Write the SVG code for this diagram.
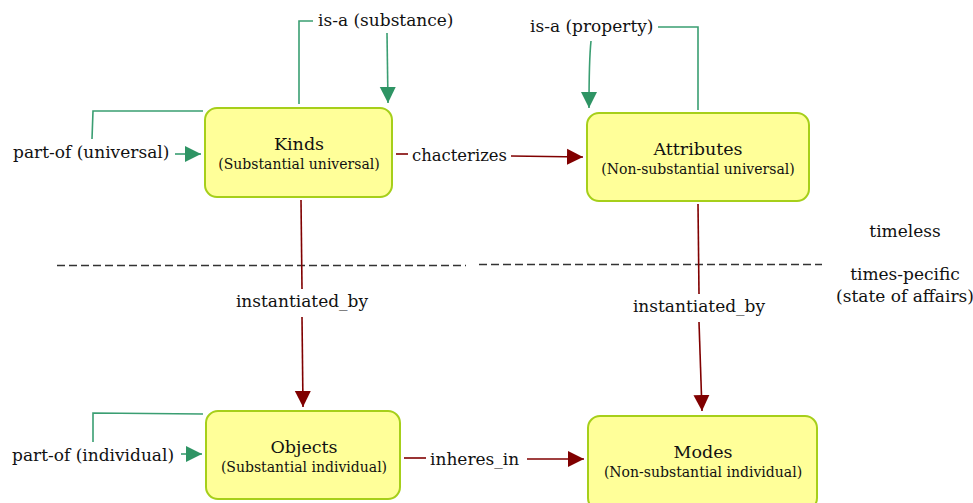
<svg xmlns="http://www.w3.org/2000/svg" width="973" height="503" viewBox="0 0 973 503">
  <style>
    .box { fill: #ffff99; stroke: #a6cf1a; stroke-width: 2; }
    .title { font-family: "DejaVu Serif", serif; font-size: 17.5px; fill: #111; text-anchor: middle; }
    .sub { font-family: "DejaVu Serif", serif; font-size: 14px; fill: #111; text-anchor: middle; }
    .lbl { font-family: "DejaVu Serif", serif; font-size: 17px; fill: #111; }
    .mid { text-anchor: middle; }
    .g { fill: none; stroke: #3a9e72; stroke-width: 1.6; }
    .r { fill: none; stroke: #800000; stroke-width: 1.6; }
    .dash { fill: none; stroke: #333; stroke-width: 1.3; stroke-dasharray: 8 4; }
  </style>
  <defs>
    <marker id="agb" viewBox="0 0 10 10" refX="10" refY="5" markerWidth="16" markerHeight="18" markerUnits="userSpaceOnUse" orient="auto">
      <path d="M0,0 L10,5 L0,10 z" fill="#2e9464"/>
    </marker>
    <marker id="ar" viewBox="0 0 10 10" refX="10" refY="5" markerWidth="16" markerHeight="18" markerUnits="userSpaceOnUse" orient="auto">
      <path d="M0,0 L10,5 L0,10 z" fill="#800000"/>
    </marker>
  </defs>

  <!-- timeline separator -->
  <g id="separator">
    <line class="dash" x1="57" y1="265.5" x2="466" y2="265.5"/>
    <line class="dash" x1="479" y1="264.5" x2="822" y2="264.5"/>
    <text class="lbl mid" x="905" y="237">timeless</text>
    <text class="lbl mid" x="905" y="280">times-pecific</text>
    <text class="lbl mid" x="905" y="302">(state of affairs)</text>
  </g>

  <!-- connectors -->
  <g id="connectors">
    <!-- is-a (substance) -->
    <polyline class="g" points="299,104 299,21 313,21"/>
    <text class="lbl" x="318" y="26">is-a (substance)</text>
    <path class="g" d="M387,33 L388,103" marker-end="url(#agb)"/>

    <!-- is-a (property) -->
    <polyline class="g" points="658,27 698,27 698,110"/>
    <text class="lbl" x="530" y="32">is-a (property)</text>
    <path class="g" d="M591,41 C589,60 589,80 589,108" marker-end="url(#agb)"/>

    <!-- part-of (universal) -->
    <polyline class="g" points="92,139 93,111 203,111"/>
    <text class="lbl" x="13" y="158">part-of (universal)</text>
    <path class="g" d="M175,154 L201,154" marker-end="url(#agb)"/>

    <!-- part-of (individual) -->
    <polyline class="g" points="93,442 93,413 203,414"/>
    <text class="lbl" x="12" y="461">part-of (individual)</text>
    <path class="g" d="M181,454 L202,454" marker-end="url(#agb)"/>

    <!-- chacterizes -->
    <line class="r" x1="396" y1="154" x2="408" y2="154"/>
    <text class="lbl" x="412" y="161" textLength="95" lengthAdjust="spacingAndGlyphs">chacterizes</text>
    <path class="r" d="M511,156 L583,157" marker-end="url(#ar)"/>

    <!-- Kinds instantiated_by Objects -->
    <line class="r" x1="301" y1="200" x2="302" y2="289"/>
    <text class="lbl mid" x="302" y="307">instantiated_by</text>
    <path class="r" d="M302,317 L303,407" marker-end="url(#ar)"/>

    <!-- Attributes instantiated_by Modes -->
    <line class="r" x1="698" y1="204" x2="699" y2="294"/>
    <text class="lbl mid" x="699" y="312">instantiated_by</text>
    <path class="r" d="M699,322 L702,411" marker-end="url(#ar)"/>

    <!-- inheres_in -->
    <line class="r" x1="404" y1="458" x2="426" y2="458"/>
    <text class="lbl" x="430" y="465">inheres_in</text>
    <path class="r" d="M527,459 L584,459" marker-end="url(#ar)"/>
  </g>

  <!-- nodes -->
  <g id="kinds">
    <rect class="box" x="205" y="108" width="187" height="89" rx="12"/>
    <text class="title" x="299" y="150">Kinds</text>
    <text class="sub" x="299" y="169">(Substantial universal)</text>
  </g>
  <g id="attributes">
    <rect class="box" x="587" y="113" width="222" height="88" rx="12"/>
    <text class="title" x="698" y="155">Attributes</text>
    <text class="sub" x="698" y="174">(Non-substantial universal)</text>
  </g>
  <g id="objects">
    <rect class="box" x="206" y="411" width="194" height="88" rx="12"/>
    <text class="title" x="304" y="453">Objects</text>
    <text class="sub" x="304" y="472">(Substantial individual)</text>
  </g>
  <g id="modes">
    <rect class="box" x="588" y="416" width="229" height="94" rx="12"/>
    <text class="title" x="703" y="458">Modes</text>
    <text class="sub" x="703" y="477">(Non-substantial individual)</text>
  </g>
</svg>
